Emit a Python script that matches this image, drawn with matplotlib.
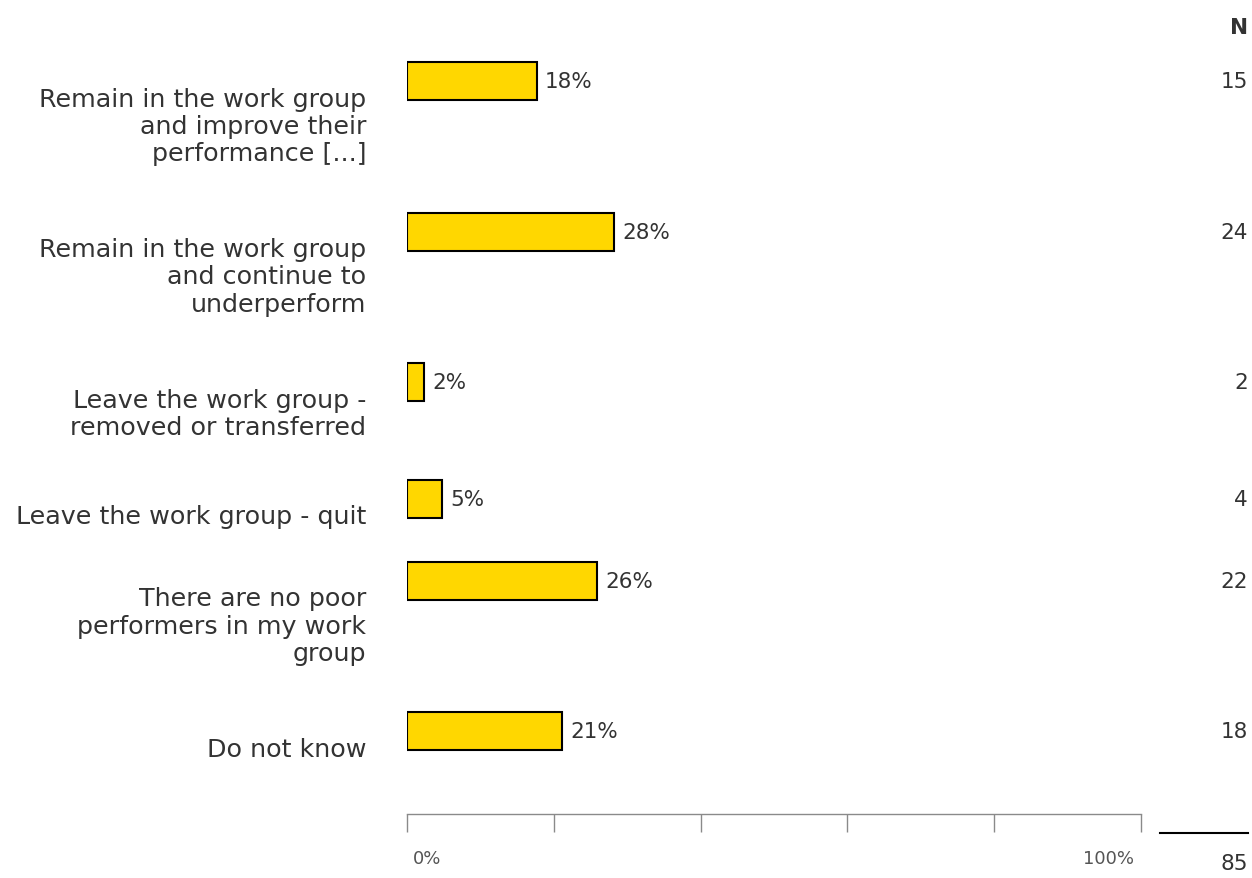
import matplotlib.pyplot as plt
from matplotlib import transforms

# -----------------------------
# Data
# -----------------------------
categories = [
    "Remain in the work group\nand improve their\nperformance [...]",
    "Remain in the work group\nand continue to\nunderperform",
    "Leave the work group -\nremoved or transferred",
    "Leave the work group - quit",
    "There are no poor\nperformers in my work\ngroup",
    "Do not know",
]
counts = [15, 24, 2, 4, 22, 18]
total = 85
pct_labels = ["18%", "28%", "2%", "5%", "26%", "21%"]
tick_values = [0, 20, 40, 60, 80, 100]
tick_labels = ["0%", "", "", "", "", "100%"]

pct = [c / total * 100 for c in counts]

# -----------------------------
# Layout (pixel units, y measured from the top)
# -----------------------------
W, H = 1252, 879
ax_left, ax_right, ax_bottom = 407, 1141, 815
first_row = 82
row_unit = 34.2   # extra room per label line
row_pad = 48
bar_h = 38
text_col = "#333333"

ys = []
y = first_row
for lab in categories:
    ys.append(y)
    y += row_unit * (lab.count("\n") + 1) + row_pad

# -----------------------------
# Plot
# -----------------------------
fig = plt.figure(figsize=(W / 100, H / 100), dpi=100)
ax = fig.add_axes([ax_left / W, 1 - ax_bottom / H, (ax_right - ax_left) / W, ax_bottom / H])
ax.set_xlim(0, 100)
ax.set_ylim(ax_bottom, 0)

ax.barh(ys, pct, height=bar_h, color="#FFD700", edgecolor="black", linewidth=1.5)

for side in ["left", "top", "right"]:
    ax.spines[side].set_visible(False)
ax.spines["bottom"].set_color("#8a8a8a")
ax.spines["bottom"].set_linewidth(1)

ax.set_xticks(tick_values, tick_labels)
ax.tick_params(axis="x", length=13, width=1, color="#8a8a8a", pad=12,
               labelsize=13, labelcolor="#555555")
ax.tick_params(axis="y", left=False, labelleft=False)
xt = ax.get_xticklabels()
xt[0].set_ha("left")
xt[0].set_transform(xt[0].get_transform() + transforms.ScaledTranslation(4 / 72, 0, fig.dpi_scale_trans))
xt[-1].set_ha("right")
xt[-1].set_transform(xt[-1].get_transform() + transforms.ScaledTranslation(-5 / 72, 0, fig.dpi_scale_trans))

# category labels
for lab, yy in zip(categories, ys):
    ax.annotate(lab, xy=(0, yy), xytext=(-29.5, -4), textcoords="offset points",
                ha="right", va="top", multialignment="right",
                fontsize=18.3, color=text_col, linespacing=1.17)

# value labels
for p, s, yy in zip(pct, pct_labels, ys):
    ax.annotate(s, xy=(p, yy), xytext=(6, 0), textcoords="offset points",
                ha="left", va="center", fontsize=15.5, color=text_col)

# N column
trans = transforms.blended_transform_factory(ax.transAxes, ax.transData)
n_x = (1248 - ax_left) / (ax_right - ax_left)
ax.text(n_x, 28, "N", transform=trans, ha="right", va="center",
        fontsize=15.5, fontweight="bold", color=text_col)
for c, yy in zip(counts, ys):
    ax.text(n_x, yy, str(c), transform=trans, ha="right", va="center",
            fontsize=15.5, color=text_col)

line_x0 = (1160 - ax_left) / (ax_right - ax_left)
ax.plot([line_x0, n_x], [834, 834], transform=trans, color="black",
        linewidth=1.5, clip_on=False)
ax.text(n_x, 864, str(total), transform=trans, ha="right", va="center",
        fontsize=15.5, color=text_col, clip_on=False)

fig.savefig("out.png", dpi=100)
